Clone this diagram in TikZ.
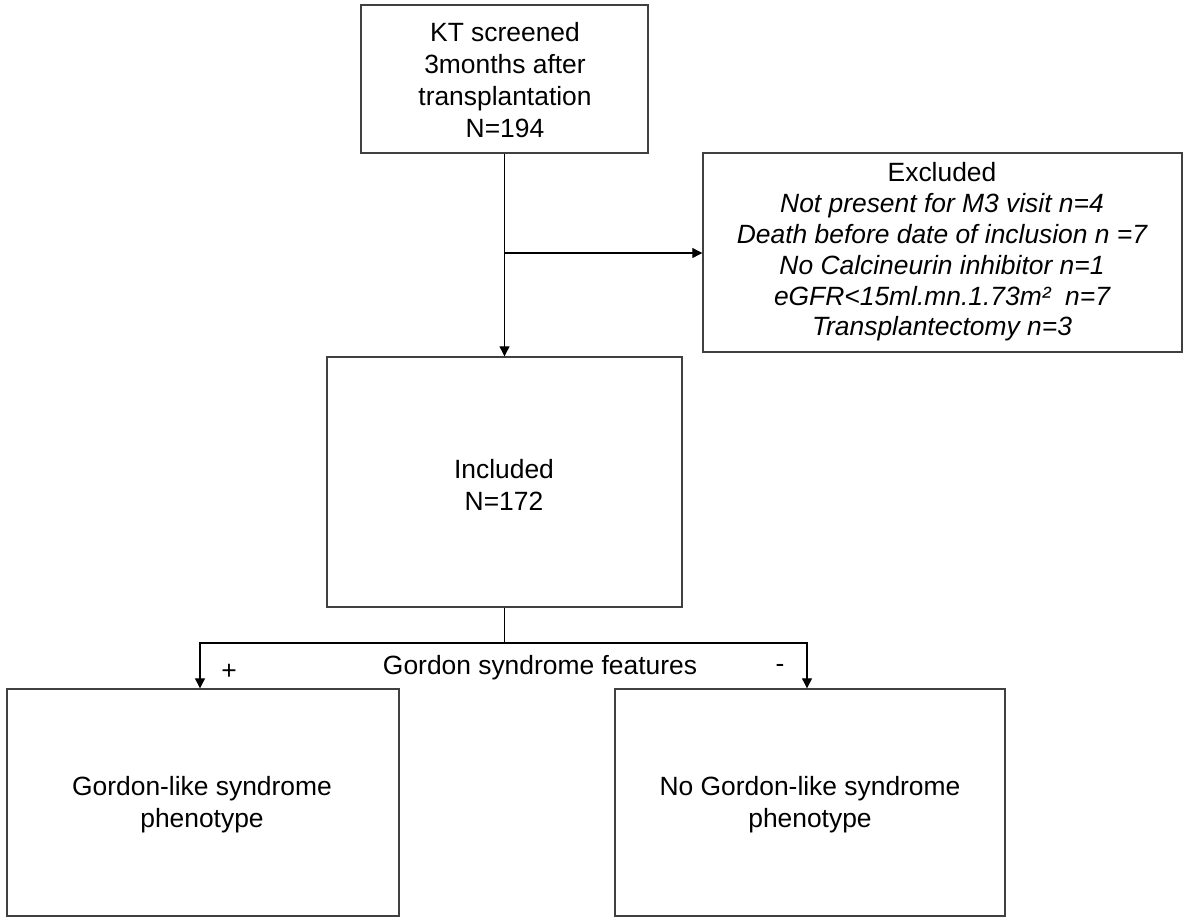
\documentclass[tikz,border=0pt]{standalone}
\usepackage{fontspec}
\setmainfont{Liberation Sans}
\usetikzlibrary{arrows.meta}
\begin{document}
\begin{tikzpicture}[x=1pt,y=-1pt,
  box/.style={draw=black!75, line width=1.4pt, rectangle, inner sep=0pt},
  txt/.style={align=center, font=\fontsize{26.4}{32}\selectfont, inner sep=0pt},
  conn/.style={line width=1.1pt, draw=black},
  arr/.style={conn, -{Triangle[length=10pt,width=10pt]}}]
\useasboundingbox[fill=white] (0,0) rectangle (1185,918);

% boxes
\node[box, minimum width=287pt, minimum height=148pt] (top) at (504.5,79) {};
\node[box, minimum width=479pt, minimum height=199pt] (excl) at (942.5,252.5) {};
\node[box, minimum width=355pt, minimum height=250pt] (incl) at (504.5,482) {};
\node[box, minimum width=392pt, minimum height=227pt] (gl) at (203,802.5) {};
\node[box, minimum width=390pt, minimum height=227pt] (ngl) at (810,802.5) {};

% texts
\node[txt] (toptext) at (505,80) {KT screened\\3months after\\transplantation\\N=194};
\node[txt, font=\fontsize{26.4}{30.8}\selectfont] (excltext) at (942,252) {Excluded\\\itshape Not present for M3 visit n=4\\\itshape Death before date of inclusion n =7\\\itshape No Calcineurin inhibitor n=1\\\itshape eGFR<15ml.mn.1.73m²\ \ n=7\\\itshape Transplantectomy n=3};
\node[txt] (incltext) at (504,485) {Included\\N=172};
\node[txt] (gltext) at (202,805) {Gordon-like syndrome\\phenotype};
\node[txt] (ngltext) at (810,805) {No Gordon-like syndrome\\phenotype};

% connectors
\coordinate (branch) at (504.5,253);
\coordinate (split) at (504.5,643);
\draw[arr] (top.south) -- (incl.north);
\draw[arr] (branch) -- (branch -| excl.west);
\draw[conn] (incl.south) -- (split);
\draw[arr] (split) -| ([xshift=-3pt]gl.north);
\draw[arr] (split) -| ([xshift=-3pt]ngl.north);

% labels
\node[txt] (plus) at (229,672) {+};
\node[txt] (minus) at (780,668) {-};
\node[txt] (feat) at (540,668) {Gordon syndrome features};
\end{tikzpicture}
\end{document}
